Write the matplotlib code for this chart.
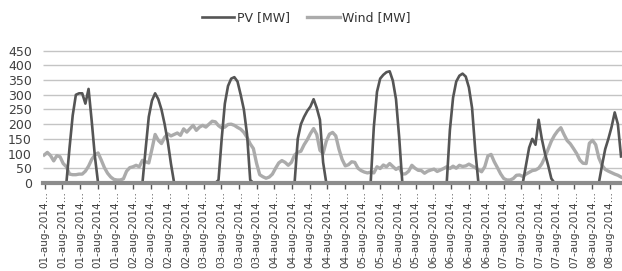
import matplotlib.pyplot as plt
import numpy as np

# hourly values, 01-aug-2014 00:00 onwards
pv = [
    0, 0, 0, 0, 0, 0, 0, 0, 120, 230, 300, 305, 305, 270, 320, 210, 90, 0, 0, 0, 0, 0, 0, 0,
    0, 0, 0, 0, 0, 0, 0, 0, 115, 225, 280, 305, 285, 250, 200, 140, 65, 0, 0, 0, 0, 0, 0, 0,
    0, 0, 0, 0, 0, 0, 0, 10, 150, 270, 330, 355, 360, 345, 300, 250, 165, 10, 0, 0, 0, 0, 0, 0,
    0, 0, 0, 0, 0, 0, 0, 0, 150, 200, 225, 245, 260, 285, 255, 215, 70, 0, 0, 0, 0, 0, 0, 0,
    0, 0, 0, 0, 0, 0, 0, 0, 190, 310, 355, 368, 377, 380, 348, 285, 155, 0, 0, 0, 0, 0, 0, 0,
    0, 0, 0, 0, 0, 0, 0, 0, 180, 290, 345, 365, 372, 362, 325, 255, 112, 0, 0, 0, 0, 0, 0, 0,
    0, 0, 0, 0, 0, 0, 0, 0, 60, 120, 150, 130, 215, 150, 100, 60, 15, 0, 0, 0, 0, 0, 0, 0,
    0, 0, 0, 0, 0, 0, 0, 0, 60, 115, 150, 190, 240, 200, 90,
]

wind = [
    95, 104, 93, 75, 93, 89, 66, 55, 30, 28, 28, 30, 30, 40, 57, 80, 95, 102, 78, 52, 33, 20, 12, 10,
    10, 14, 40, 52, 55, 60, 55, 77, 72, 68, 115, 165, 145, 134, 155, 167, 160, 165, 170, 162, 184, 173, 185, 196,
    179, 190, 196, 190, 200, 210, 208, 195, 187, 190, 199, 200, 196, 189, 183, 172, 155, 133, 117, 67, 28, 21, 16, 20,
    30, 50, 68, 76, 70, 60, 70, 95, 104, 108, 130, 147, 168, 185, 165, 111, 100, 142, 166, 172, 160, 115, 80, 58,
    62, 72, 70, 50, 42, 37, 34, 37, 34, 55, 49, 61, 55, 66, 56, 46, 53, 30, 31, 40, 60, 50, 43, 42,
    33, 40, 44, 47, 39, 44, 49, 55, 49, 57, 50, 60, 56, 58, 64, 58, 52, 45, 38, 55, 92, 97, 72, 52,
    31, 15, 10, 10, 15, 26, 27, 22, 30, 36, 42, 44, 50, 65, 88, 115, 142, 162, 177, 188, 165, 144, 133, 117,
    100, 78, 67, 66, 135, 145, 130, 85, 60, 46, 40, 35, 30, 26, 20,
]

tick_days = ["01"] * 5 + ["02"] * 4 + ["03"] * 4 + ["04"] * 5 + ["05"] * 4 + ["06"] * 4 + ["07"] * 5 + ["08"] * 2
tick_labels = [d + "-aug-2014\u2026" for d in tick_days]

hours = np.arange(len(pv))
ticks = 0.2 + 5.57 * np.arange(len(tick_labels))
yticks = np.arange(0, 451, 50)

fig = plt.figure(figsize=(6.22, 2.71), dpi=100)
ax = fig.add_axes([0.069, 0.325, 0.931, 0.49])

ax.plot(hours, wind, color="#ababab", lw=2.4, label="Wind [MW]", zorder=2)
ax.plot(hours, pv, color="#555555", lw=1.9, label="PV [MW]", zorder=3)

ax.set_ylim(0, 452)
ax.set_xlim(-0.4, 182.3)
ax.set_yticks(yticks)

# horizontal gridlines
ax.hlines(yticks[1:], -0.4, 182.3, colors="#c4c4c4", linewidths=1.0, zorder=1)

for s in ["top", "right", "left"]:
    ax.spines[s].set_visible(False)
ax.spines["bottom"].set_color("#8c8c8c")
ax.spines["bottom"].set_linewidth(3)
ax.spines["bottom"].set_zorder(4)

ax.set_xticks(ticks)
ax.set_xticklabels(tick_labels, rotation=90, fontsize=7.5, color="#404040")
ax.tick_params(axis="x", length=4, width=1, color="#555555", pad=2)
ax.tick_params(axis="y", length=0, pad=8, labelsize=9, labelcolor="#404040")

h, l = ax.get_legend_handles_labels()
fig.legend(h[::-1], l[::-1], loc="upper center", bbox_to_anchor=(0.492, 1.0), ncol=2,
           frameon=False, fontsize=9, handlelength=2.6, handletextpad=0.2,
           columnspacing=1.4, labelcolor="#333333")

fig.savefig("out.png", dpi=100)
